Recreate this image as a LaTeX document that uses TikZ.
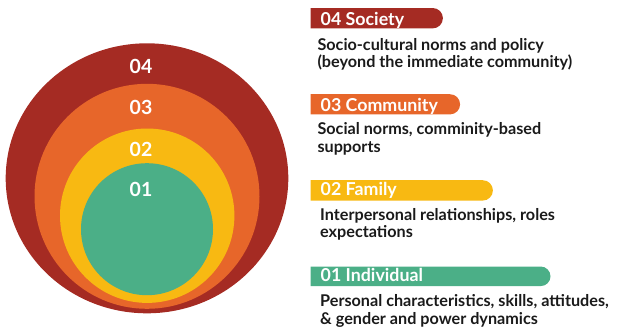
\documentclass[tikz,border=0pt]{standalone}
\usepackage{fontspec}
\setmainfont{Lato}
\definecolor{socred}{HTML}{A52B23}
\definecolor{comorange}{HTML}{E7662A}
\definecolor{famyellow}{HTML}{F8B912}
\definecolor{indgreen}{HTML}{4BAF87}
\definecolor{inktext}{HTML}{1A1A1A}
\begin{document}
\begin{tikzpicture}[x=1pt,y=-1pt,
  layer label/.style={text=white, font=\fontsize{19.5}{20}\selectfont\bfseries, anchor=base, inner sep=0pt},
  bar label/.style={text=white, font=\fontsize{17.8}{18}\selectfont\bfseries, anchor=base west, inner sep=0pt},
  desc/.style={text=inktext, font=\fontsize{16.2}{17.2}\selectfont\bfseries, anchor=base west, align=left, inner sep=0pt}]
\useasboundingbox (0,0) rectangle (630,335);

% nested layers of the model
\fill[socred] (147,178.3) ellipse [x radius=141.3, y radius=135];
\fill[comorange] (147,196.3) circle [radius=112.5];
\fill[famyellow] (147.2,215.7) circle [radius=87.2];
\fill[indgreen] (147,229.2) circle [radius=66];

\node[layer label] (l4) at (141,73.3) {04};
\node[layer label] (l3) at (141,114.3) {03};
\node[layer label] (l2) at (141,156) {02};
\node[layer label] (l1) at (141,196.7) {01};

% heading bars, flat on the left and round on the right
\fill[socred] (310.7,8) -- (432.7,8) arc[start angle=-90, end angle=90, radius=10.2] -- (310.7,28.4) -- cycle;
\fill[comorange] (310.7,94.2) -- (450,94.2) arc[start angle=-90, end angle=90, radius=10.1] -- (310.7,114.4) -- cycle;
\fill[famyellow] (310.7,180.2) -- (482.7,180.2) arc[start angle=-90, end angle=90, radius=10.2] -- (310.7,200.6) -- cycle;
\fill[indgreen] (310.7,266.5) -- (540.7,266.5) arc[start angle=-90, end angle=90, radius=9.8] -- (310.7,286.1) -- cycle;

\node[bar label] (h4) at (320.5,25.3) {04 Society};
\node[bar label] (h3) at (320.5,111) {03 Community};
\node[bar label] (h2) at (320.5,195.7) {02 Family};
\node[bar label] (h1) at (320.5,281.7) {01 Individual};

% descriptions, placed by the baseline of their second line
\node[desc] (d4) at (317.3,67.3) {Socio-cultural norms and policy\\(beyond the immediate community)};
\node[desc] (d3) at (317.3,152) {Social norms, comminity-based\\supports};
\node[desc] (d2) at (320,237.5) {Interpersonal relationships, roles\\expectations};
\node[desc] (d1) at (320,324) {Personal characteristics, skills, attitudes,\\\& gender and power dynamics};
\end{tikzpicture}
\end{document}
